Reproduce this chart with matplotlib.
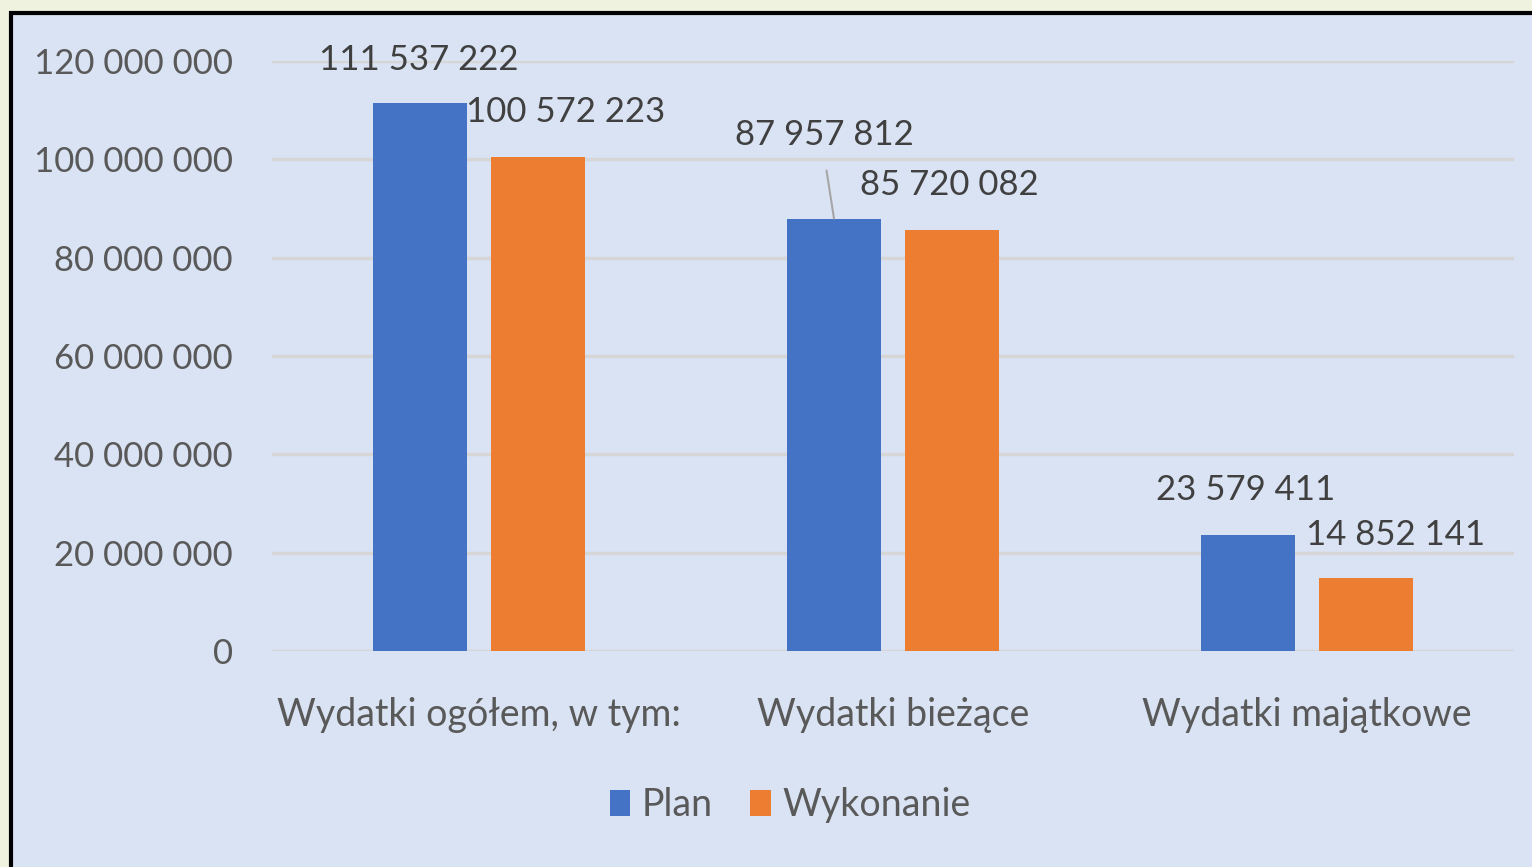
import matplotlib
matplotlib.use("Agg")
import matplotlib.pyplot as plt
import numpy as np
from matplotlib.patches import Rectangle, Patch

categories = ["Wydatki ogółem, w tym:", "Wydatki bieżące", "Wydatki majątkowe"]
plan = [111537222, 87957812, 23579411]
wykonanie = [100572223, 85720082, 14852141]
series_names = ["Plan", "Wykonanie"]
yticks = [0, 20000000, 40000000, 60000000, 80000000, 100000000, 120000000]

# label offsets in pixels (dx, dy) relative to bar top centre
plan_offsets = [(-1.5, 43), (-9.5, 83.5), (-2.5, 45)]
wyk_offsets = [(27.5, 44.5), (-2.5, 44.5), (29.5, 43)]

FONT = "Lato"
plt.rcParams['font.family'] = [FONT, 'DejaVu Sans']

W, H = 1532, 867
fig = plt.figure(figsize=(W / 100, H / 100), dpi=100)
fig.patch.set_facecolor("#eef2de")

# inner panel with black border
panel = Rectangle((11 / W, -0.05), 1.1, 1 - 13 / H + 0.05,
                  transform=fig.transFigure, facecolor="#dae3f3",
                  edgecolor="black", linewidth=3.0, zorder=-10)
fig.patches.append(panel)

ax = fig.add_axes([272 / W, 1 - 651 / H, (1514 - 272) / W, (651 - 61) / H])
ax.set_facecolor("none")
ax.set_zorder(1)

x = np.arange(len(categories))
bw = 0.225
off = 0.1425
blue, orange = "#4472c4", "#ed7d31"
ax.bar(x - off, plan, bw, color=blue, zorder=3)
ax.bar(x + off, wykonanie, bw, color=orange, zorder=3)

ax.set_xlim(-0.5, 2.5)
ax.set_ylim(0, 120000000)
ax.set_yticks(yticks)
ax.set_yticklabels([f"{v:,}".replace(",", " ") for v in yticks])
ax.grid(axis="y", color="#d6d6d6", linewidth=2.5, zorder=1)
ax.set_axisbelow(True)
for s in ax.spines.values():
    s.set_visible(False)
ax.tick_params(axis="y", length=0, pad=28, labelsize=25, labelcolor="#595959")
ax.set_xticks(x)
ax.set_xticklabels(categories)
ax.tick_params(axis="x", length=0, pad=33, labelsize=27, labelcolor="#595959")

fmt = lambda v: f"{v:,}".replace(",", " ")
for xi, v, (dx, dy) in zip(x - off, plan, plan_offsets):
    ax.annotate(fmt(v), xy=(xi, v), xytext=(dx, dy), textcoords="offset pixels",
                ha="center", va="center", fontsize=25, color="#404040", zorder=5)
for xi, v, (dx, dy) in zip(x + off, wykonanie, wyk_offsets):
    ax.annotate(fmt(v), xy=(xi, v), xytext=(dx, dy), textcoords="offset pixels",
                ha="center", va="center", fontsize=25, color="#404040", zorder=5)

# leader line for second plan label
ax.annotate("", xy=(x[1] - off, plan[1]), xytext=(-7.5, 48),
            textcoords="offset pixels",
            arrowprops=dict(arrowstyle="-", color="#a6a6a6", lw=1.5,
                            shrinkA=0, shrinkB=0))

handles = [Patch(facecolor=blue), Patch(facecolor=orange)]
leg = fig.legend(handles, series_names, loc="center", bbox_to_anchor=(790 / W, 1 - 805 / H),
                 ncol=2, frameon=False, fontsize=27, handlelength=0.55, handleheight=0.7,
                 handletextpad=0.3, columnspacing=1.0)
for t in leg.get_texts():
    t.set_color("#595959")

fig.savefig("out.png", dpi=100, facecolor=fig.get_facecolor())
